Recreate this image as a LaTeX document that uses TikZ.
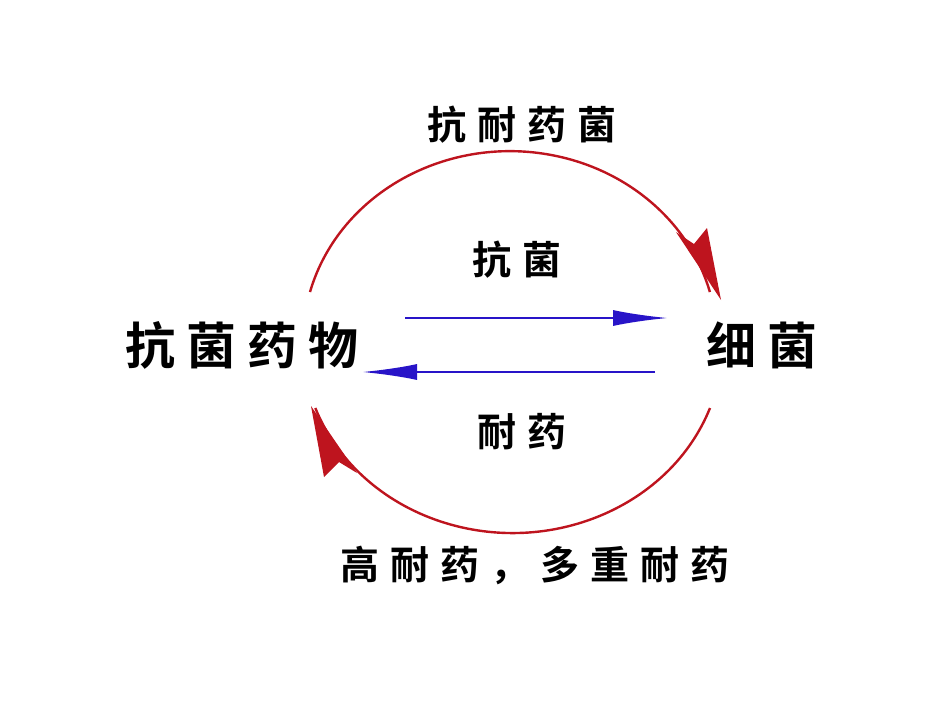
\documentclass[tikz,border=0pt]{standalone}
\usepackage{fontspec}
\newfontfamily\cjk{Noto Sans CJK SC Bold}[LetterSpace=28]
\newfontfamily\cjkb{Noto Sans CJK SC Bold}[LetterSpace=22]
\usetikzlibrary{arrows.meta}
\definecolor{arcred}{RGB}{190,20,30}
\definecolor{blu}{RGB}{40,20,200}
\begin{document}
\begin{tikzpicture}[x=1pt,y=-1pt,
  lbl/.style={font=\cjk\fontsize{39}{42}\selectfont},
  big/.style={font=\cjkb\fontsize{50}{54}\selectfont},
  redarc/.style={draw=arcred,line width=2.4pt},
  bluearr/.style={draw=blu,line width=2.4pt,-{Latex[length=55pt,width=16pt]}}]
\useasboundingbox (0,0) rectangle (950,713);
\node[big] (drug) at (242,345) {抗菌药物};
\node[big] (bac) at (762,345) {细菌};
\node[lbl] (t1) at (522,125) {抗耐药菌};
\node[lbl] (t2) at (517,260) {抗菌};
\node[lbl] (t3) at (522,432) {耐药};
\node[lbl] (t4) at (535,565) {高耐药，多重耐药};
\coordinate (a1) at (405,318); \coordinate (a2) at (668,318);
\coordinate (b1) at (655,372); \coordinate (b2) at (362,372);
\draw[bluearr] (a1) -- (a2);
\draw[bluearr] (b1) -- (b2);
\draw[redarc] (310,292) arc[start angle=-165,end angle=-15,x radius=207,y radius=190];
\draw[redarc] (710,408) arc[start angle=20,end angle=160,x radius=210,y radius=190];
\fill[arcred] (721,300) -- (676,232) -- (694,244) -- (707,228) -- cycle;
\fill[arcred] (311,406) -- (357,473) -- (339,462) -- (324,477) -- cycle;
\end{tikzpicture}
\end{document}
